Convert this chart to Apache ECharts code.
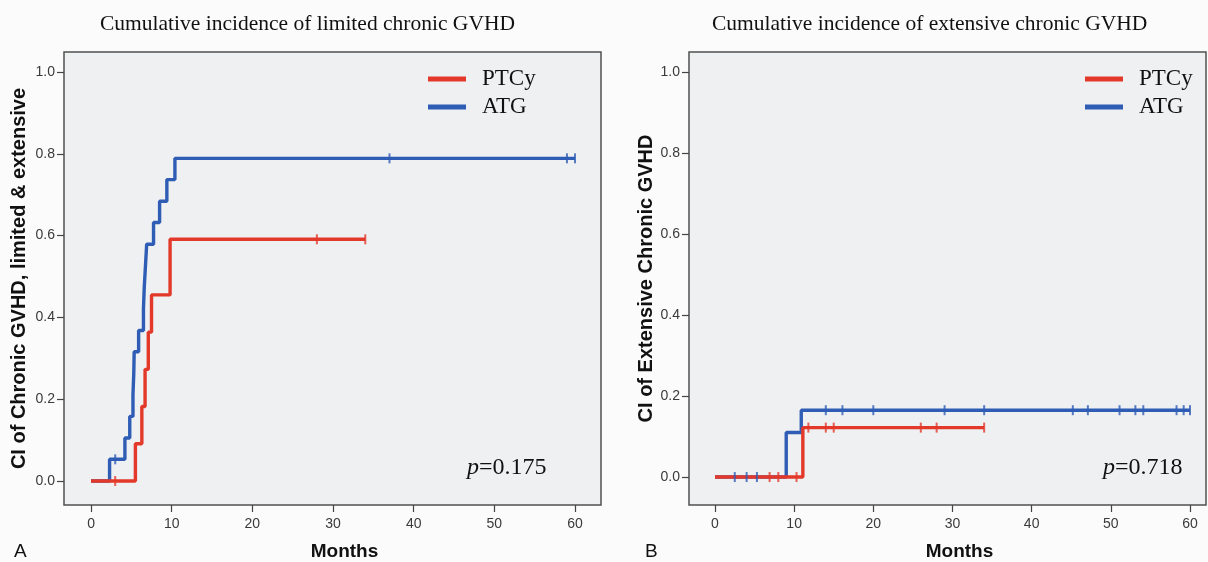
<!DOCTYPE html>
<html>
<head>
<meta charset="utf-8">
<script src="https://cdn.jsdelivr.net/npm/echarts@6/dist/echarts.min.js"></script>
<style>
  html, body { margin: 0; padding: 0; background: #fcfbfb; }
  #chart { width: 1208px; height: 562px; }
</style>
</head>
<body>
<div id="chart"></div>
<script>
  // tick labels
  var monthTicks = [0, 10, 20, 30, 40, 50, 60];
  var ciTicks = [0, 0.2, 0.4, 0.6, 0.8, 1.0];

  // panel A - limited chronic GVHD  [month, cumulative incidence]
  var limPtcy = [[0, 0], [5.5, 0.091], [6.3, 0.182], [6.7, 0.273], [7.1, 0.364], [7.5, 0.455], [9.8, 0.591], [34, 0.591]];
  var limPtcyCens = [[3, 0], [28, 0.591], [34, 0.591]];
  var limAtg = [[0, 0], [2.3, 0.053], [4.2, 0.105], [4.8, 0.158], [5.2, 0.211], [5.3, 0.263], [5.35, 0.316],
    [5.9, 0.368], [6.5, 0.421], [6.6, 0.474], [6.75, 0.526], [6.9, 0.579], [7.75, 0.632], [8.5, 0.684],
    [9.4, 0.737], [10.4, 0.789], [60, 0.789]];
  var limAtgCens = [[3, 0.053], [37, 0.789], [59, 0.789], [60, 0.789]];

  // panel B - extensive chronic GVHD
  var extPtcy = [[0, 0], [11.1, 0.122], [34, 0.122]];
  var extPtcyCens = [[6.9, 0], [8.0, 0], [10.3, 0], [11.8, 0.122], [14, 0.122], [15, 0.122], [26, 0.122], [28, 0.122], [34, 0.122]];
  var extAtg = [[0, 0], [9.0, 0.11], [10.9, 0.165], [60, 0.165]];
  var extAtgCens = [[2.5, 0], [4.0, 0], [5.3, 0], [14, 0.165], [16.1, 0.165], [20, 0.165], [29, 0.165], [34, 0.165],
    [45.2, 0.165], [47.1, 0.165], [51.1, 0.165], [53.1, 0.165], [54.1, 0.165], [58.3, 0.165], [59.2, 0.165], [60, 0.165]];

  var RED = '#e3392a';
  var BLUE = '#2f5db5';
  var SANS = 'Liberation Sans';
  var SERIF = 'Liberation Serif';

  function xAx(idx, min, max, nameGap) {
    return {
      type: 'value', gridIndex: idx, min: min, max: max,
      name: 'Months', nameLocation: 'middle', nameGap: nameGap,
      nameTextStyle: { fontFamily: SANS, fontWeight: 'bold', fontSize: 19, color: '#111', padding: [0, 0, 0, 24] },
      axisLine: { show: false, onZero: false },
      axisTick: { show: true, length: 7, lineStyle: { color: '#444', width: 1.2 }, customValues: monthTicks },
      axisLabel: { fontFamily: SANS, fontSize: 14, color: '#3a3a3a', margin: 12, customValues: monthTicks },
      splitLine: { show: false }
    };
  }
  function yAx(idx, min, name, nameGap) {
    return {
      type: 'value', gridIndex: idx, min: min, max: 1.049,
      name: name, nameLocation: 'middle', nameGap: nameGap,
      nameTextStyle: { fontFamily: SANS, fontWeight: 'bold', fontSize: 20, color: '#111' },
      axisLine: { show: false, onZero: false },
      axisTick: { show: true, length: 7, lineStyle: { color: '#444', width: 1.2 }, customValues: ciTicks },
      axisLabel: { fontFamily: SANS, fontSize: 14, color: '#3a3a3a', margin: 9, customValues: ciTicks,
        formatter: function (v) { return v.toFixed(1); } },
      splitLine: { show: false }
    };
  }
  function stepLine(name, data, color, idx) {
    return { name: name, type: 'line', step: 'end', data: data, xAxisIndex: idx, yAxisIndex: idx,
      symbol: 'none', lineStyle: { color: color, width: 3.4 }, itemStyle: { color: color } };
  }
  function censors(name, data, color, idx) {
    return { name: name, type: 'scatter', data: data, xAxisIndex: idx, yAxisIndex: idx,
      symbol: 'rect', symbolSize: [2, 10], itemStyle: { color: color }, z: 3 };
  }
  function legendAt(left) {
    return {
      left: left, top: 67, orient: 'vertical', padding: 0, itemGap: 4,
      icon: 'rect', itemWidth: 38, itemHeight: 5, selectedMode: false,
      data: ['PTCy', 'ATG'],
      textStyle: { fontFamily: SERIF, fontSize: 23, lineHeight: 24, color: '#111', padding: [0, 0, 0, 11] }
    };
  }
  function pText(left, value) {
    return {
      text: '{i|p}=' + value, left: left, top: 451,
      textStyle: { fontFamily: SERIF, fontSize: 24, fontWeight: 'normal', color: '#111',
        rich: { i: { fontFamily: SERIF, fontSize: 24, fontStyle: 'italic', color: '#111' } } }
    };
  }

  var chart = echarts.init(document.getElementById('chart'));
  chart.setOption({
    animation: false,
    backgroundColor: '#fcfbfb',
    title: [
      { text: 'Cumulative incidence of limited chronic GVHD', left: 95, top: 8,
        textStyle: { fontFamily: SERIF, fontSize: 21.5, fontWeight: 'normal', color: '#111' } },
      { text: 'Cumulative incidence of extensive chronic GVHD', left: 707, top: 8,
        textStyle: { fontFamily: SERIF, fontSize: 21.5, fontWeight: 'normal', color: '#111' } },
      pText(462, '0.175'),
      pText(1098, '0.718'),
      { text: 'A', left: 9, top: 537, textStyle: { fontFamily: SANS, fontSize: 19, fontWeight: 'normal', color: '#111' } },
      { text: 'B', left: 640, top: 537, textStyle: { fontFamily: SANS, fontSize: 19, fontWeight: 'normal', color: '#111' } }
    ],
    legend: [legendAt(428), legendAt(1085)],
    grid: [
      { left: 64, right: 607, top: 52, bottom: 57, outerBoundsMode: 'none', show: true,
        backgroundColor: '#eef0f2', borderColor: '#505050', borderWidth: 1.5 },
      { left: 689, right: 2, top: 52, bottom: 57, outerBoundsMode: 'none', show: true,
        backgroundColor: '#eef0f2', borderColor: '#505050', borderWidth: 1.5 }
    ],
    xAxis: [xAx(0, -3.35, 63.22, 37), xAx(1, -3.28, 62.02, 37)],
    yAxis: [yAx(0, -0.0587, 'CI of Chronic GVHD, limited & extensive', 35),
            yAx(1, -0.069, 'CI of Extensive Chronic GVHD', 33)],
    series: [
      stepLine('ATG', limAtg, BLUE, 0),
      censors('ATG censored', limAtgCens, BLUE, 0),
      stepLine('PTCy', limPtcy, RED, 0),
      censors('PTCy censored', limPtcyCens, RED, 0),
      stepLine('ATG', extAtg, BLUE, 1),
      censors('ATG censored', extAtgCens, BLUE, 1),
      stepLine('PTCy', extPtcy, RED, 1),
      censors('PTCy censored', extPtcyCens, RED, 1)
    ]
  });
</script>
</body>
</html>
